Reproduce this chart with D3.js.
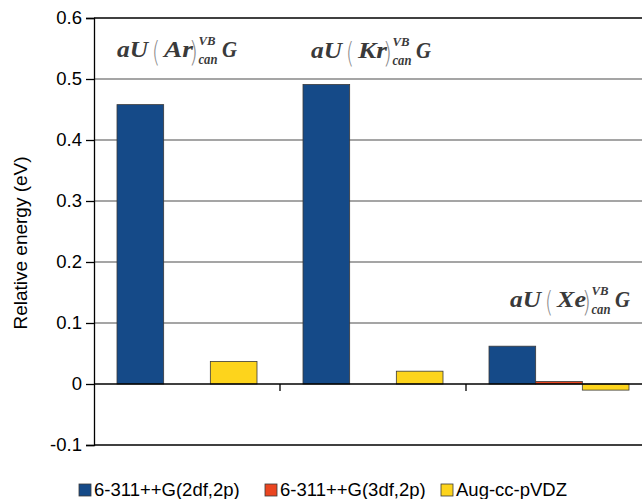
<!DOCTYPE html>
<html><head><meta charset="utf-8">
<script src="https://cdn.jsdelivr.net/npm/d3@7"></script>
<style>body{margin:0;background:#fff}svg{display:block}</style>
</head><body>
<svg id="c" width="642" height="499"></svg>
<script>
const categories = ["Ar", "Kr", "Xe"];
const seriesNames = ["6-311++G(2df,2p)", "6-311++G(3df,2p)", "Aug-cc-pVDZ"];
const seriesColors = ["#154a88", "#ea4520", "#fdd41c"];
const series2df = [0.458, 0.491, 0.062];
const series3df = [0, 0, 0.004];
const seriesAug = [0.037, 0.021, -0.010];
const yTicks = [-0.1, 0, 0.1, 0.2, 0.3, 0.4, 0.5, 0.6];
const labelAtoms = ["Ar", "Kr", "Xe"];

const values = [series2df, series3df, seriesAug];
const svg = d3.select("#c");
const x = d3.scaleBand().domain(categories).range([94, 652]).padding(0);
const xs = d3.scaleBand().domain(seriesNames).range([23, x.bandwidth() - 23]).padding(0);
const y = d3.scaleLinear().domain([-0.1, 0.6]).range([445, 18]);
const sans = "Liberation Sans, Arial, sans-serif";

// gridlines
svg.append("g").selectAll("line").data(yTicks.filter(t => t !== 0 && t !== -0.1 && t !== 0.6)).join("line")
  .attr("x1", 94).attr("x2", 652).attr("y1", d => y(d)).attr("y2", d => y(d))
  .attr("stroke", "#878787").attr("stroke-width", 1.3);
// frame top/bottom
[0.6, -0.1].forEach(t => svg.append("line").attr("x1", 94).attr("x2", 652)
  .attr("y1", y(t)).attr("y2", y(t)).attr("stroke", "#000").attr("stroke-width", 1.3));

// y axis
const yAxis = d3.axisLeft(y).tickValues(yTicks).tickSize(8).tickPadding(4)
  .tickFormat(d => d === 0 ? "0" : d3.format(".1f")(d).replace("\u2212", "-"));
const ya = svg.append("g").attr("transform", "translate(94,0)").call(yAxis);
ya.select(".domain").attr("stroke", "#000").attr("stroke-width", 1.3);
ya.selectAll(".tick line").attr("stroke", "#000").attr("stroke-width", 1.3);
ya.selectAll(".tick text").attr("font-family", sans)
  .attr("font-size", 18.5).attr("fill", "#000");

// bars
const g = svg.append("g");
categories.forEach((c, ci) => {
  seriesNames.forEach((s, si) => {
    const v = values[si][ci];
    if (v === 0) return;
    g.append("rect")
      .attr("x", x(c) + xs(s))
      .attr("width", xs.bandwidth())
      .attr("y", y(Math.max(v, 0)))
      .attr("height", Math.abs(y(v) - y(0)))
      .attr("fill", seriesColors[si])
      .attr("stroke", "#3a3a3a").attr("stroke-width", 0.8);
  });
});

// zero axis with category ticks
svg.append("line").attr("x1", 94).attr("x2", 652).attr("y1", y(0)).attr("y2", y(0))
  .attr("stroke", "#000").attr("stroke-width", 1.5);
svg.append("g").selectAll("line").data(categories.slice(1)).join("line")
  .attr("x1", d => x(d)).attr("x2", d => x(d)).attr("y1", y(0)).attr("y2", y(0) + 7)
  .attr("stroke", "#000").attr("stroke-width", 1.3);

// y label
svg.append("text").attr("transform", "translate(26.5,243) rotate(-90)")
  .attr("text-anchor", "middle").attr("font-family", sans)
  .attr("font-size", 19).text("Relative energy (eV)");

// formula labels (one text element each, pieces as tspans)
const labelPos = [[117, 57], [311, 57.5], [510, 307]];
const serif = "Liberation Serif, Times New Roman, serif";
labelAtoms.forEach((a, i) => {
  const [lx, ly] = labelPos[i];
  const t = svg.append("text").attr("font-family", serif).attr("fill", "#3a3a3a")
    .attr("font-weight", "bold").attr("font-style", "italic");
  const piece = (txt, px, py, size, len) => {
    const s = t.append("tspan").attr("x", lx + px).attr("y", ly + py).attr("font-size", size).text(txt);
    if (len) s.attr("textLength", len).attr("lengthAdjust", "spacingAndGlyphs");
    return s;
  };
  const paren = (txt, px, len) => piece(txt, px, 5, 29, len)
    .attr("font-family", "DejaVu Sans, sans-serif").attr("font-weight", "200")
    .attr("font-style", "normal").attr("fill", "#8a8a8a");
  piece("aU", 0, 0, 23, 31);
  paren("(", 35, 8);
  piece(a, 47, 0, 23, 29);
  paren(")", 72, 9);
  piece("VB", 81.5, -12, 13, 17);
  piece("can", 81.5, 7, 14, 19);
  piece("G", 105, 0, 23, 15);
});

// legend
const legendX = [79, 265, 441];
const lg = svg.append("g");
seriesNames.forEach((s, i) => {
  lg.append("rect").attr("x", legendX[i]).attr("y", 484).attr("width", 12).attr("height", 12)
    .attr("fill", seriesColors[i]).attr("stroke", "#3a3a3a").attr("stroke-width", 0.8);
  lg.append("text").attr("x", legendX[i] + 15).attr("y", 496)
    .attr("font-family", sans).attr("font-size", 18.5).text(s);
});
</script>
</body></html>
